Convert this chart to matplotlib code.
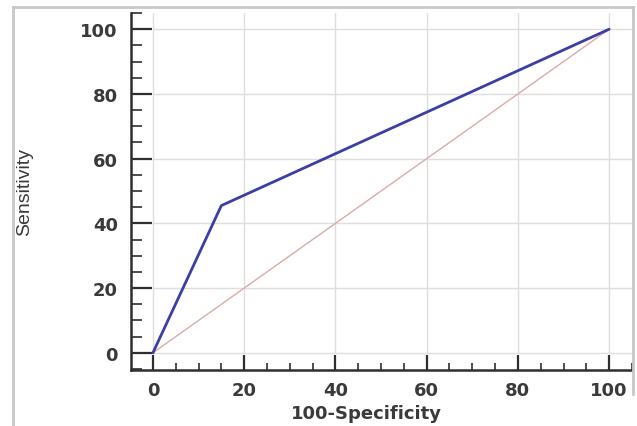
import matplotlib
matplotlib.use("Agg")
import matplotlib.pyplot as plt
from matplotlib.lines import Line2D
from matplotlib.ticker import MultipleLocator

# =============================================================================
# Data
# =============================================================================

fpr = [0, 15, 100]          # 100-Specificity
tpr = [0, 45.5, 100]        # Sensitivity
ref_x = [0, 100]
ref_y = [0, 100]

ticks = [0, 20, 40, 60, 80, 100]

# =============================================================================
# Plot
# =============================================================================

plt.rcParams["font.family"] = ["DejaVu Sans"]

W, H = 637, 427
fig = plt.figure(figsize=(W / 100, H / 100), dpi=100)
ax = fig.add_axes([131 / W, 1 - 371 / H, (632 - 131) / W, (371 - 14) / H])

# image frame (light gray border)
frame = "#c8c8c8"
fig.add_artist(Line2D([13 / W, 13 / W], [0, 1 - 8 / H], color=frame, lw=2))
fig.add_artist(Line2D([13 / W, 633 / W], [1 - 8 / H, 1 - 8 / H], color=frame, lw=2))
fig.add_artist(Line2D([633 / W, 633 / W], [1 - 395 / H, 1 - 8 / H], color=frame, lw=2))

ax.set_xlim(-4.8, 105)
ax.set_ylim(-5.3, 105)

# grid lines only inside the data region
for t in ticks:
    ax.plot([t, t], [0, 105], color="#dedede", lw=1, zorder=0)
    ax.plot([0, 105], [t, t], color="#dedede", lw=1, zorder=0)

ax.plot(ref_x, ref_y, color="#dcaaaa", lw=1, zorder=2)
ax.plot(fpr, tpr, color="#3b3fa3", lw=2.0, zorder=3, solid_capstyle="round")

dark = "#2e2e2e"
for s in ["top", "right"]:
    ax.spines[s].set_visible(False)
for s in ["left", "bottom"]:
    ax.spines[s].set_linewidth(1.8)
    ax.spines[s].set_color(dark)

ax.set_xticks(ticks)
ax.set_yticks(ticks)
ax.xaxis.set_minor_locator(MultipleLocator(5))
ax.yaxis.set_minor_locator(MultipleLocator(5))
ax.tick_params(which="major", direction="in", width=1.6, color=dark,
               labelsize=13, labelcolor="#3a3a3a")
ax.tick_params(axis="x", which="major", length=11, pad=8)
ax.tick_params(axis="y", which="major", length=15, pad=9.5)
ax.tick_params(which="minor", direction="in", width=1.2, color=dark)
ax.tick_params(axis="x", which="minor", length=5)
ax.tick_params(axis="y", which="minor", length=8)
for lbl in ax.get_xticklabels() + ax.get_yticklabels():
    lbl.set_fontweight("bold")

ax.set_xlabel("100-Specificity", fontsize=13, fontweight="bold",
              color="#3a3a3a", labelpad=2)
ax.xaxis.set_label_coords(0.469, -0.095)
fig.text(25 / W, 1 - 192 / H, "Sensitivity", rotation=90, fontsize=14,
         family="Liberation Sans", color="#3a3a3a", ha="center", va="center")

fig.savefig("out.png", dpi=100)
